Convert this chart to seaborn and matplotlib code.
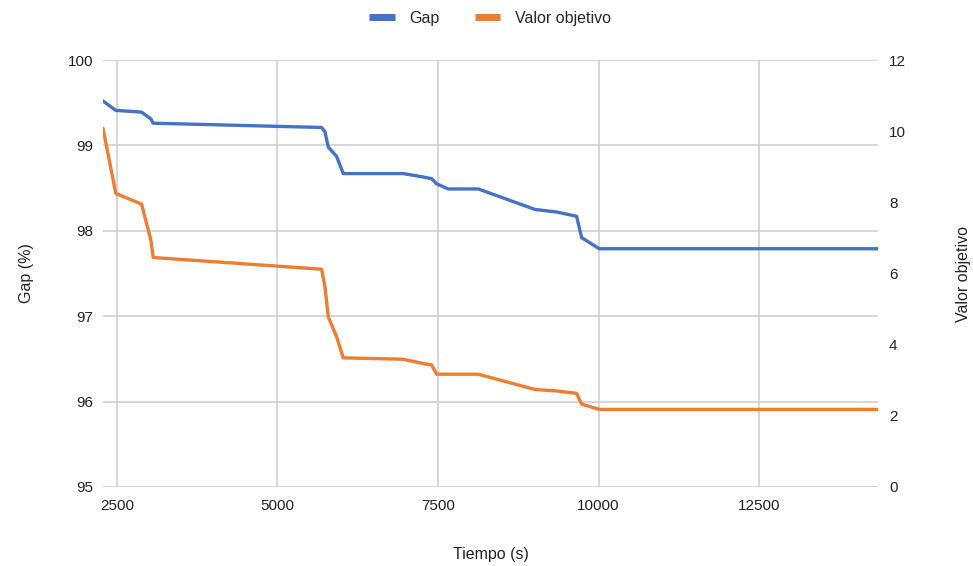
import matplotlib
matplotlib.use("Agg")
import matplotlib.pyplot as plt
import seaborn as sns
import pandas as pd
from matplotlib.lines import Line2D

tiempo = [2285, 2484, 2885, 3030, 3066, 5688, 5740, 5792, 5922, 6025, 6960,
          7270, 7401, 7479, 7660, 8127, 9010, 9347, 9658, 9736, 10010, 14350]
gap = [99.52, 99.41, 99.39, 99.31, 99.26, 99.21, 99.16, 98.98, 98.87, 98.67, 98.67,
       98.63, 98.61, 98.55, 98.49, 98.49, 98.25, 98.22, 98.17, 97.92, 97.79, 97.79]
valor_objetivo = [10.08, 8.25, 7.95, 6.94, 6.45, 6.12, 5.63, 4.78, 4.22, 3.63, 3.59,
                  3.47, 3.43, 3.17, 3.17, 3.17, 2.74, 2.70, 2.63, 2.33, 2.18, 2.18]
x_ticks = [2500, 5000, 7500, 10000, 12500]
left_ticks = [95, 96, 97, 98, 99, 100]
right_ticks = [0, 2, 4, 6, 8, 10, 12]

blue = "#4472C4"
orange = "#ED7D31"
grid_c = "#D0D0D0"

sns.set_theme(style="white")
plt.rcParams["font.family"] = ["Liberation Sans", "DejaVu Sans"]

df = pd.DataFrame({"t": tiempo, "gap": gap, "obj": valor_objetivo})

fig = plt.figure(figsize=(9.73, 5.66), dpi=100)
ax = fig.add_axes([103 / 973, 1 - 487 / 566, (878 - 103) / 973, (487 - 60) / 566])
ax2 = ax.twinx()

sns.lineplot(data=df, x="t", y="gap", ax=ax, color=blue, linewidth=2.4, zorder=3)
sns.lineplot(data=df, x="t", y="obj", ax=ax2, color=orange, linewidth=2.4, zorder=3)

ax.set_xlim(tiempo[0], tiempo[-1])
ax.set_ylim(95, 100)
ax2.set_ylim(0, 12)
ax.set_xticks(x_ticks)
ax.set_yticks(left_ticks)
ax2.set_yticks(right_ticks)
ax.set_xticklabels([str(v) for v in x_ticks], fontsize=11, color="#222222")
ax.set_yticklabels([str(v) for v in left_ticks], fontsize=11, color="#222222")
ax2.set_yticklabels([str(v) for v in right_ticks], fontsize=11, color="#222222")

ax.grid(True, color=grid_c, linewidth=1.2)
ax.set_axisbelow(True)
for a in (ax, ax2):
    for s in a.spines.values():
        s.set_visible(False)
    a.tick_params(length=0)
ax.tick_params(axis="x", pad=9)
ax.tick_params(axis="y", pad=7)
ax2.tick_params(axis="y", pad=8)

ax.set_xlabel("Tiempo (s)", fontsize=11.5, color="#222222", labelpad=24)
ax.set_ylabel("Gap (%)", fontsize=11.5, color="#222222", labelpad=24)
ax2.set_ylabel("Valor objetivo", fontsize=11.5, color="#222222", labelpad=36)

handles = [Line2D([0], [0], color=blue, linewidth=5, solid_capstyle="butt"),
           Line2D([0], [0], color=orange, linewidth=5, solid_capstyle="butt")]
fig.legend(handles, ["Gap", "Valor objetivo"], loc="center", bbox_to_anchor=(490 / 973, 1 - 18 / 566),
           ncol=2, frameon=False, fontsize=11.5, handlelength=1.6, columnspacing=2.2, handletextpad=0.9)

fig.savefig("out.png", dpi=100)
